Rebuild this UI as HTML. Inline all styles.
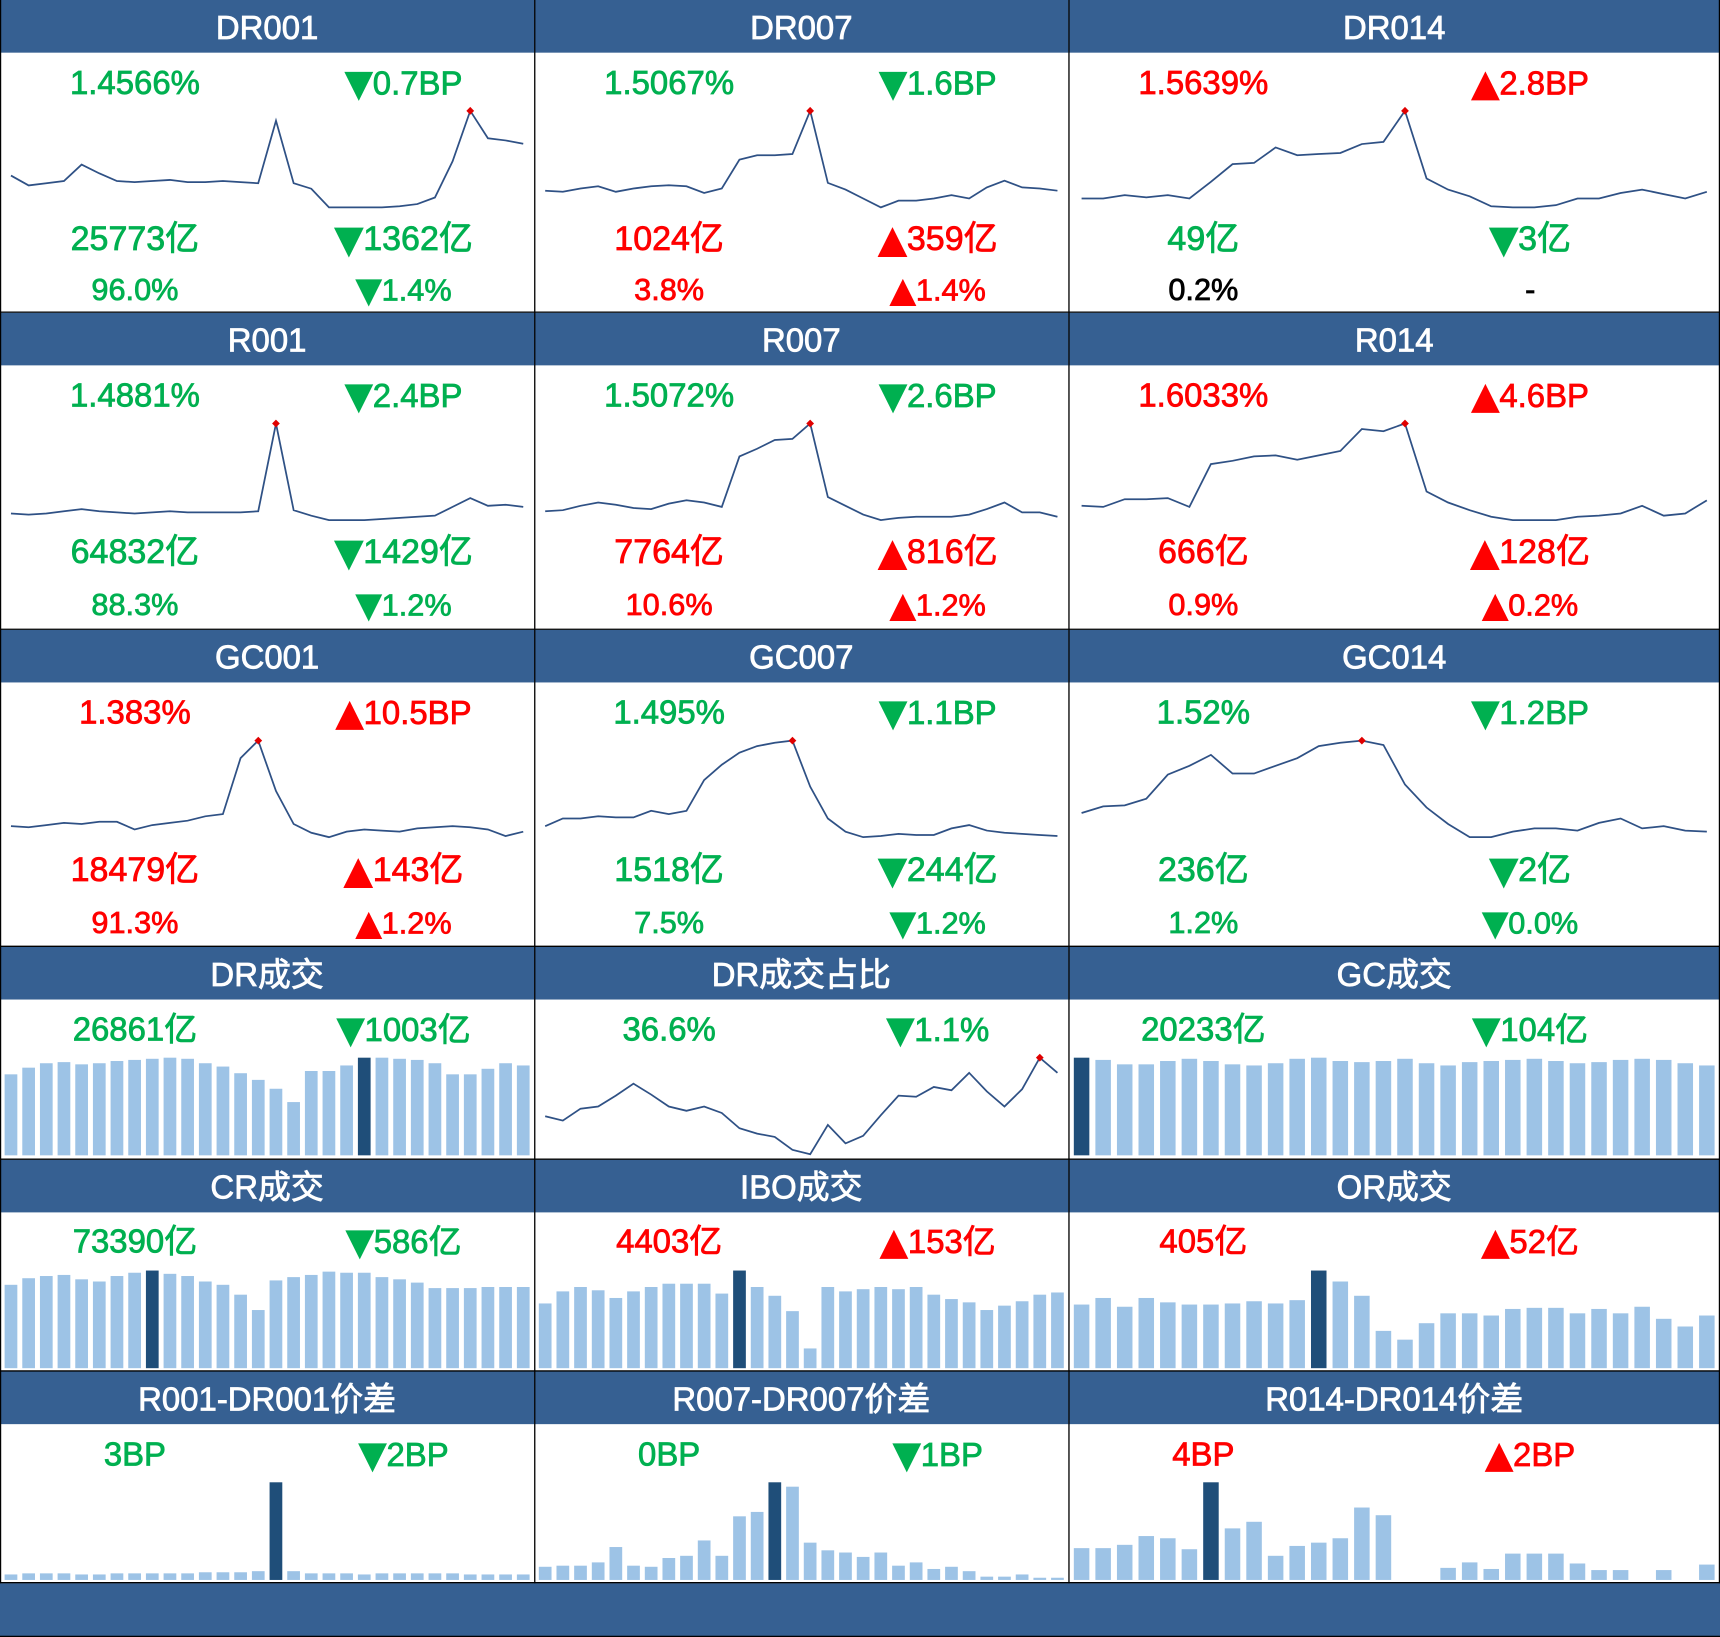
<!DOCTYPE html>
<html><head><meta charset="utf-8"><style>
html,body{margin:0;padding:0;background:#fff;width:1720px;height:1637px;overflow:hidden}
svg{display:block}
text{font-family:"Liberation Sans","Noto Sans CJK SC",sans-serif}
</style></head><body>
<svg id="board" width="1720" height="1637" viewBox="0 0 1568 1492" preserveAspectRatio="none" xmlns="http://www.w3.org/2000/svg"></svg>
<script>
// ---- data ----
const dr001 = [160,169,167,165,150,158,165,166,165,164,166,166,165,166,167,110,167,172,189,189,189,189,188,186,180,147,101,126,128,131];
const dr007 = [173,174,171,169,174,171,169,168,169,175,171,145,141,141,140,101,166,172,180,188,182,182,180,177,180,170,164,170,171,173];
const dr014 = [180,180,177,179,177,180,165,149,148,134,141,140,139,131,129,101,162,172,178,187,188,188,186,180,180,175,172,176,180,174];
const r001 = [467,468,467,465,463,465,466,467,466,465,466,466,466,466,465,385,464,469,473,473,473,472,471,470,469,461,453,460,459,461];
const r007 = [465,464,460,457,459,462,463,458,455,457,461,415,408,400,399,385,452,460,468,473,471,470,470,470,468,463,457,466,466,470];
const r014 = [460,461,454,454,453,461,422,419,415,414,418,414,410,390,392,385,447,457,464,470,473,473,473,470,469,467,460,469,467,455];
const gc001 = [752,753,751,749,750,748,748,755,751,749,747,743,741,690,674,720,750,758,762,757,755,756,757,754,753,752,753,755,761,757];
const gc007 = [752,745,745,743,744,744,738,741,738,710,696,685,679,676,674,716,745,757,762,761,759,760,760,754,751,756,758,759,760,761];
const gc014 = [740,734,733,727,705,697,687,704,704,697,690,679,676,674,678,714,735,750,762,762,757,754,754,756,749,745,754,752,756,757];
const drShare = [1017,1021,1010,1008,998,987,997,1008,1012,1008,1014,1028,1033,1036,1048,1052,1025,1042,1035,1016,998,999,990,993,977,994,1008,992,963,977];
const drVol = [73,79,83,84,82,83,85,86,87,88,87,83,80,74,68,60,48,76,76,81,88,88,87,86,83,73,73,78,83,81];
const gcVol = [88,86,82,82,85,87,85,82,81,83,87,88,85,84,85,87,83,81,84,85,86,87,85,83,84,86,87,86,83,81];
const crVol = [76,82,84,85,81,79,84,87,89,86,84,79,76,67,53,80,83,85,88,87,87,83,81,78,73,73,73,74,74,74];
const iboVol = [59,70,74,71,64,70,74,77,77,77,68,89,74,66,52,18,74,70,72,74,72,74,67,63,60,53,57,61,67,69];
const orVol = [58,64,56,64,60,58,58,59,61,59,62,89,79,66,34,26,41,50,50,48,54,55,55,50,54,50,56,45,38,48];
const sp001 = [5,6,6,6,5,5,6,6,6,6,6,7,7,7,8,89,8,6,6,6,5,6,6,6,6,6,5,5,5,5];
const sp007 = [12,13,13,16,30,13,12,20,22,36,22,58,62,89,85,34,27,25,21,25,13,16,10,12,8,3,3,5,2,2];
const sp014 = [29,29,32,40,38,28,89,47,53,22,31,34,38,66,59,0,0,11,16,10,24,24,24,15,9,9,0,9,0,14];
const titles = ["DR001","DR007","DR014","R001","R007","R014","GC001","GC007","GC014","DR成交","DR成交占比","GC成交","CR成交","IBO成交","OR成交","R001-DR001价差","R007-DR007价差","R014-DR014价差"];
const valL1 = ["1.4566%","1.5067%","1.5639%","1.4881%","1.5072%","1.6033%","1.383%","1.495%","1.52%","26861亿","36.6%","20233亿","73390亿","4403亿","405亿","3BP","0BP","4BP"];
const valR1 = ["▼0.7BP","▼1.6BP","▲2.8BP","▼2.4BP","▼2.6BP","▲4.6BP","▲10.5BP","▼1.1BP","▼1.2BP","▼1003亿","▼1.1%","▼104亿","▼586亿","▲153亿","▲52亿","▼2BP","▼1BP","▲2BP"];
const col1 = ["g","g","r","g","g","r","r","g","g","g","g","g","g","r","r","g","g","r"];
const valL2 = ["25773亿","1024亿","49亿","64832亿","7764亿","666亿","18479亿","1518亿","236亿"];
const valR2 = ["▼1362亿","▲359亿","▼3亿","▼1429亿","▲816亿","▲128亿","▲143亿","▼244亿","▼2亿"];
const col2 = ["g","r","g","g","r","r","r","g","g"];
const valL3 = ["96.0%","3.8%","0.2%","88.3%","10.6%","0.9%","91.3%","7.5%","1.2%"];
const valR3 = ["▼1.4%","▲1.4%","-","▼1.2%","▲1.2%","▲0.2%","▲1.2%","▼1.2%","▼0.0%"];
const col3 = ["g","r","k","g","r","r","r","g","g"];
// ---- layout ----
const NS="http://www.w3.org/2000/svg";
const svg=document.getElementById('board');
const C={g:"#00b050",r:"#ff0000",k:"#000000"};
const HEAD="#366092";
const cols=[{x:0,w:487,lx:123,rx:368,px0:10,px1:477},{x:487,w:487,lx:123,rx:368,px0:10,px1:477},{x:974,w:594,lx:123,rx:421,px0:12,px1:582}];
const rows=[{hy:0,by:48,bh:236,t:[27,170,216]},{hy:285,by:333,bh:240,t:[27,170,218]},{hy:574,by:622,bh:240,t:[27,171,219]},{hy:863,by:911,bh:145,t:[27]},{hy:1057,by:1105,bh:143,t:[26]},{hy:1250,by:1298,bh:144,t:[27]}];
function el(tag,a,p){const e=document.createElementNS(NS,tag);for(const k in a)e.setAttribute(k,a[k]);(p||svg).appendChild(e);return e;}
function txt(x,y,s,fill,size,name){const t=el('text',{x:x,y:y,fill:fill,stroke:fill,'stroke-width':0.7,'font-size':size,'text-anchor':'middle','dominant-baseline':'central'});


const m=s.match(/^([▲▼])(.*)$/);
if(m){const a=el('tspan',{'font-size':size*1.1,'font-family':'DejaVu Sans'},t);a.textContent=m[1];const b=el('tspan',{},t);b.textContent=m[2];}
else t.textContent=s;return t;}
const lineSeries=[dr001,dr007,dr014,r001,r007,r014,gc001,gc007,gc014];
const barSeries={9:drVol,11:gcVol,12:crVol,13:iboVol,14:orVol,15:sp001,16:sp007,17:sp014};
const barHi={9:20,11:0,12:8,13:11,14:11,15:15,16:13,17:6};
function spark(data,c,r,name){
  const mn=Math.min(...data),mx=Math.max(...data);
  const x0=c.x+c.px0,x1=c.x+c.px1,yT=r.by+53,yB=r.by+141;
  const xs=i=>x0+(x1-x0)*i/(data.length-1);
  const ys=v=>yT+(v-mn)/(mx-mn)*(yB-yT);
  const pts=data.map((v,i)=>xs(i).toFixed(1)+','+ys(v).toFixed(1)).join(' ');
  const pl=el('polyline',{points:pts,fill:'none',stroke:'#2f5185','stroke-width':1.6});
  
  
  const im=data.indexOf(mn);
  const d=el('rect',{x:xs(im)-2.5,y:ys(mn)-2.5,width:5,height:5,fill:'#e00000',transform:`rotate(45 ${xs(im)} ${ys(mn)})`});
  
  
}
function bars(data,hi,c,r,name){
  const n=data.length,mx=Math.max(...data);
  const x0=c.x+c.px0,x1=c.x+c.px1,base=r.by+142,H=89;
  const step=(x1-x0)/(n-1),bw=step*0.72;
  data.forEach((v,i)=>{const h=v/mx*H;
    const b=el('rect',{x:x0+step*i-bw/2,y:base-h,width:bw,height:h,fill:i===hi?'#1f4e79':'#9dc3e6'});
    
    
  });
}
rows.forEach((r,ri)=>{
  cols.forEach((c,ci)=>{
    const idx=ri*3+ci;const nm=titles[idx].toLowerCase().replace(/[^a-z0-9]+/g,'-');
    const g=el('rect',{x:c.x,y:r.hy,width:c.w,height:48,fill:HEAD});
    
    
    txt(c.x+c.w/2,r.hy+25,titles[idx],'#ffffff',30,nm+'-title');
    txt(c.x+c.lx,r.by+r.t[0],valL1[idx],C[col1[idx]],30,nm+'-value');
    txt(c.x+c.rx,r.by+r.t[0],valR1[idx],C[col1[idx]],30,nm+'-change');
    if(idx<9){
      txt(c.x+c.lx,r.by+r.t[1],valL2[idx],C[col2[idx]],31,nm+'-volume');
      txt(c.x+c.rx,r.by+r.t[1],valR2[idx],C[col2[idx]],31,nm+'-volume-change');
      txt(c.x+c.lx,r.by+r.t[2],valL3[idx],C[col3[idx]],28,nm+'-share');
      txt(c.x+c.rx,r.by+r.t[2],valR3[idx],C[col3[idx]],28,nm+'-share-change');
      spark(lineSeries[idx],c,r,nm);
    } else if(idx===10){
      spark(drShare,c,r,nm);
    } else {
      bars(barSeries[idx],barHi[idx],c,r,nm);
    }
  });
});
const f=el('rect',{x:0,y:1443,width:1568,height:49,fill:HEAD});


[284.5,573.5,862.5,1056.5,1249.5,1442.5,1491.5].forEach(y=>{el('line',{x1:0,x2:1568,y1:y,y2:y,stroke:'#000','stroke-width':1.2});});
[0.5,487.5,974.5,1567.5].forEach(x=>{el('line',{x1:x,x2:x,y1:0,y2:1443,stroke:'#000','stroke-width':1.2});});
</script>
</body></html>
